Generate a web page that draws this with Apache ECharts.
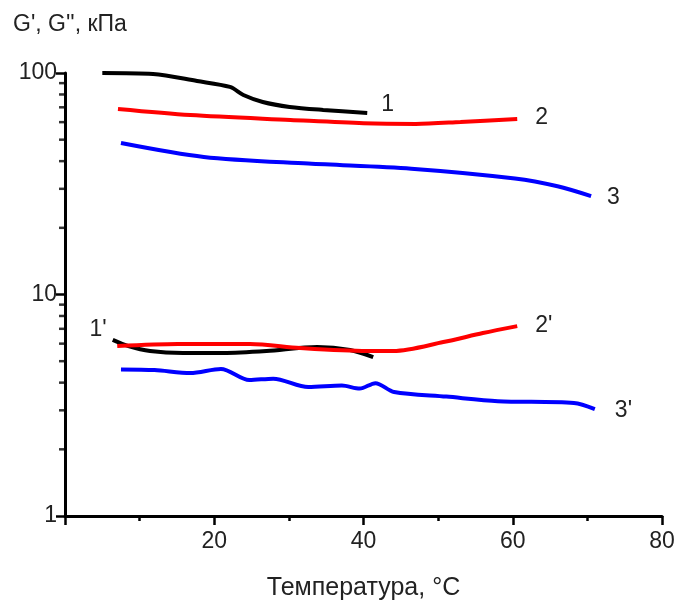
<!DOCTYPE html>
<html>
<head>
<meta charset="utf-8">
<script src="https://cdn.jsdelivr.net/npm/echarts@6/dist/echarts.min.js"></script>
<style>
  html, body { margin: 0; padding: 0; background: #fff; }
  #chart { width: 686px; height: 614px; }
</style>
</head>
<body>
<div id="chart"></div>
<script>
// данные кривых (температура, °C / модуль, кПа)
const t1 = [5, 11.8, 17.7, 22.1, 23.9, 26.5, 30.1, 34.6, 40.5]
const g1 = [100, 99, 92, 86.5, 79.6, 74, 70.3, 68.1, 66]
const t2 = [7.1, 16.8, 30.2, 40, 47, 53, 60.6]
const g2 = [68.8, 64.6, 61.4, 59.3, 58.9, 60.1, 62]
const t3 = [7.5, 18.6, 32.6, 46.4, 60.3, 66, 70.5]
const g3 = [48.3, 41.8, 39.0, 37.0, 33.4, 30.8, 27.8]
const t1p = [6.4, 8.5, 11.4, 15.8, 21.2, 27, 33.8, 38.2, 41.3]
const g1p = [6.24, 5.85, 5.56, 5.45, 5.45, 5.56, 5.8, 5.62, 5.22]
const t2p = [7, 15.1, 24.8, 31.5, 40.5, 44, 50.7, 56, 60.6]
const g2p = [5.85, 5.98, 5.98, 5.73, 5.56, 5.56, 6.1, 6.7, 7.2]
const t3p = [7.5, 12, 16.8, 20.9, 24.7, 27.9, 32.6, 37.1, 39.5, 41.6, 44.1, 51.1, 58, 68.2, 71]
const g3p = [4.59, 4.56, 4.42, 4.61, 4.11, 4.17, 3.82, 3.88, 3.76, 3.98, 3.63, 3.46, 3.30, 3.24, 3.04]

// малые деления логарифмической оси
const minorY = [2, 3, 4, 5, 6, 7, 8, 9, 20, 30, 40, 50, 60, 70, 80, 90]

const zip = (xs, ys) => xs.map((x, i) => [x, ys[i]])
const font = 'Liberation Sans, Arial, sans-serif'
const fs = 23

function curve(name, color, xs, ys, offset) {
  return {
    name,
    type: 'line',
    data: zip(xs, ys),
    smooth: 0.3,
    showSymbol: false,
    lineStyle: { color, width: 4 },
    endLabel: offset ? {
      show: true,
      formatter: name,
      color: '#222',
      fontSize: fs,
      fontFamily: font,
      offset,
    } : { show: false },
  }
}

const chart = echarts.init(document.getElementById('chart'))

// подпись 1' стоит у начала кривой
const s1p = curve("1'", '#000', t1p, g1p, null)
s1p.data[0] = {
  value: s1p.data[0],
  label: { show: true, formatter: "1'", position: 'left', offset: [-1, -10], color: '#222', fontSize: fs, fontFamily: font },
}
s1p.showSymbol = true
s1p.symbolSize = 0

chart.setOption({
  animation: false,
  title: {
    text: "G', G'', кПа",
    left: 8,
    top: 8,
    textStyle: { color: '#222', fontSize: fs, fontWeight: 'normal', fontFamily: font },
  },
  grid: { left: 65, right: 24, top: 73, bottom: 98 },
  xAxis: {
    type: 'value',
    min: 0,
    max: 80,
    interval: 20,
    name: 'Температура, °C',
    nameLocation: 'middle',
    nameGap: 60,
    nameTextStyle: { color: '#222', fontSize: 25, fontFamily: font },
    axisLine: { lineStyle: { color: '#000', width: 3 } },
    axisTick: { length: 9, lineStyle: { color: '#000', width: 2.5 } },
    minorTick: { show: true, splitNumber: 2, length: 5, lineStyle: { color: '#000', width: 2.5 } },
    axisLabel: {
      color: '#222',
      fontSize: fs,
      fontFamily: font,
      margin: 14,
      formatter: v => (v === 0 ? '' : v),
    },
    splitLine: { show: false },
  },
  yAxis: {
    type: 'log',
    logBase: 10,
    min: 1,
    max: 100,
    interval: 1,
    axisLine: { show: true, lineStyle: { color: '#000', width: 3 } },
    axisTick: { show: true, length: 9, lineStyle: { color: '#000', width: 2.5 } },
    axisLabel: { color: '#222', fontSize: fs, fontFamily: font, margin: 8 },
    splitLine: { show: false },
  },
  series: [
    curve('3', '#0000ff', t3, g3, [8, 2]),
    curve("3'", '#0000ff', t3p, g3p, [12, 2]),
    curve('1', '#000', t1, g1, [6, -8]),
    s1p,
    curve('2', '#ff0000', t2, g2, [10, -1]),
    curve("2'", '#ff0000', t2p, g2p, [10, 0]),
    {
      type: 'scatter',
      silent: true,
      clip: false,
      symbol: 'rect',
      symbolSize: [6, 2.5],
      symbolOffset: [-3, 0],
      itemStyle: { color: '#000' },
      data: minorY.map(v => [0, v]),
    },
  ],
})
</script>
</body>
</html>
